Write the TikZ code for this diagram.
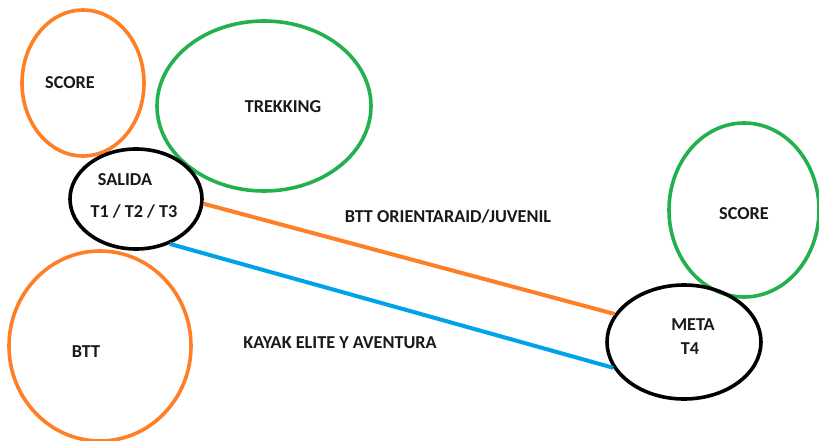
\documentclass[tikz,border=0pt]{standalone}
\usepackage{fontspec}
\setmainfont{Carlito}
\usetikzlibrary{shapes.geometric}
\definecolor{porange}{HTML}{FF7F27}
\definecolor{pgreen}{HTML}{22B14C}
\definecolor{pblue}{HTML}{00A2E8}
\tikzset{
  oval/.style={ellipse, draw, line width=3.6pt, inner sep=0pt},
  lbl/.style={font=\fontsize{18.2}{21}\selectfont\bfseries, inner sep=0pt, text=black!90},
  conn/.style={line width=4pt},
}
\begin{document}
\begin{tikzpicture}[x=1pt,y=-1pt]
\useasboundingbox[fill=white] (0,0) rectangle (819,441);
\node[oval, draw=porange, minimum width=122pt, minimum height=146pt] (scoreL) at (83,83) {};
\node[oval, draw=pgreen, minimum width=214pt, minimum height=170pt] (trek) at (264,106) {};
\node[oval, draw=black, minimum width=132pt, minimum height=100pt] (salida) at (136,199) {};
\node[oval, draw=porange, minimum width=182pt, minimum height=190pt] (btt) at (100,346) {};
\node[oval, draw=pgreen, minimum width=150pt, minimum height=174pt] (scoreR) at (744,210) {};
\node[oval, draw=black, minimum width=154pt, minimum height=114pt] (meta) at (684,342) {};
\draw[conn, porange] (salida.-4) -- (meta.158);
\draw[conn, pblue] (salida.-53) -- (meta.200);
\node[lbl] (t1) at (70,83) {SCORE};
\node[lbl] (t2) at (283,107) {TREKKING};
\node[lbl] (t3) at (125,180) {SALIDA};
\node[lbl] (t4) at (134,212) {T1 / T2 / T3};
\node[lbl] (t5) at (448,217) {BTT ORIENTARAID/JUVENIL};
\node[lbl] (t6) at (744,214) {SCORE};
\node[lbl] (t7) at (693,325) {META};
\node[lbl] (t8) at (690,349) {T4};
\node[lbl] (t9) at (340,343) {KAYAK ELITE Y AVENTURA};
\node[lbl] (t10) at (86,352) {BTT};
\end{tikzpicture}
\end{document}
